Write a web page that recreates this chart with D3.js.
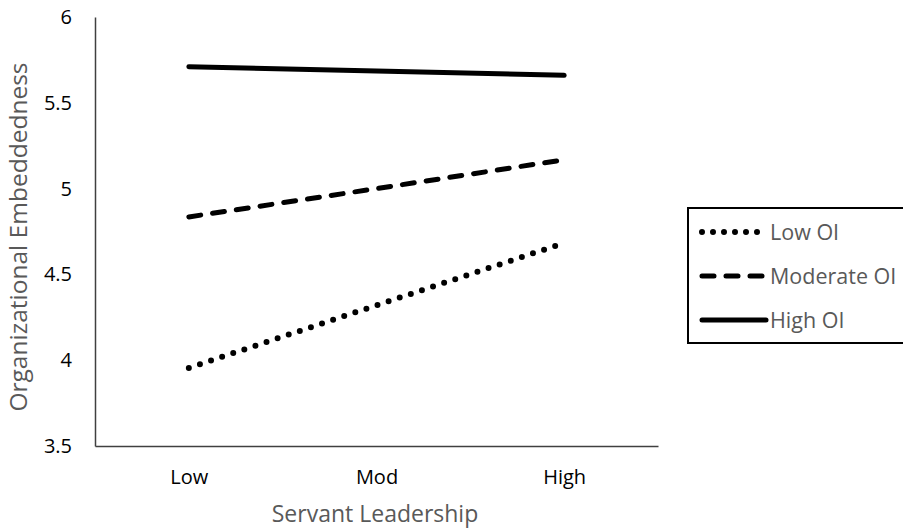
<!DOCTYPE html>
<html>
<head>
<meta charset="utf-8">
<script src="https://cdn.jsdelivr.net/npm/d3@7"></script>
<style>
  body { margin: 0; background: #fff; }
  svg { display: block; }
  svg text { font-family: "Open Sans", sans-serif; }
</style>
</head>
<body>
<svg id="chart" width="903" height="531"></svg>
<script>
// Daten
const categories = ["Low", "Mod", "High"];
const seriesNames = ["Low OI", "Moderate OI", "High OI"];
const lowOI = [3.955, 4.32, 4.683];
const moderateOI = [4.835, 5.0, 5.168];
const highOI = [5.71, 5.685, 5.66];
const yTicks = [3.5, 4, 4.5, 5, 5.5, 6];

const series = [
  { name: seriesNames[0], values: lowOI,      dash: "0 11.7", width: 6 },
  { name: seriesNames[1], values: moderateOI, dash: "12 12",  width: 5 },
  { name: seriesNames[2], values: highOI,     dash: null,     width: 5 }
];

const svg = d3.select("#chart");
const plot = { left: 95, right: 658, top: 17, bottom: 446 };

const x = d3.scalePoint()
  .domain(categories)
  .range([plot.left, plot.right])
  .padding(0.5);

const y = d3.scaleLinear()
  .domain([3.5, 6])
  .range([plot.bottom, plot.top]);

// Achsen
const xAxis = svg.append("g")
  .attr("transform", `translate(0,${plot.bottom})`)
  .call(d3.axisBottom(x).tickSize(0).tickPadding(24));
xAxis.attr("font-family", null).attr("font-size", null);
xAxis.select(".domain").attr("stroke", "#404040").attr("stroke-width", 1.5);
xAxis.selectAll("text")
  .attr("fill", "#000")
  .style("font-size", "20px");

const yAxis = svg.append("g")
  .attr("transform", `translate(${plot.left},0)`)
  .call(d3.axisLeft(y).tickValues(yTicks).tickSize(0).tickPadding(23).tickFormat(d3.format("")));
yAxis.attr("font-family", null).attr("font-size", null);
yAxis.select(".domain").attr("stroke", "#404040").attr("stroke-width", 1.5);
yAxis.selectAll("text")
  .attr("fill", "#000")
  .style("font-size", "20px");

// Achsentitel
svg.append("text")
  .attr("x", 375)
  .attr("y", 522)
  .attr("text-anchor", "middle")
  .attr("fill", "#595959")
  .style("font-size", "23px")
  .text("Servant Leadership");

svg.append("text")
  .attr("transform", "translate(27,237) rotate(-90)")
  .attr("text-anchor", "middle")
  .attr("fill", "#595959")
  .style("font-size", "24.5px")
  .text("Organizational Embeddedness");

// Linien
const line = d3.line()
  .x((d, i) => x(categories[i]))
  .y(d => y(d));

svg.selectAll(".series")
  .data(series)
  .join("path")
  .attr("class", "series")
  .attr("d", d => line(d.values))
  .attr("fill", "none")
  .attr("stroke", "#000")
  .attr("stroke-width", d => d.width)
  .attr("stroke-linecap", "round")
  .attr("stroke-dasharray", d => d.dash);

// Legende
const legend = svg.append("g");
legend.append("rect")
  .attr("x", 688).attr("y", 208)
  .attr("width", 240).attr("height", 135)
  .attr("fill", "#fff")
  .attr("stroke", "#000")
  .attr("stroke-width", 2);

const legendY = d3.scalePoint()
  .domain(seriesNames)
  .range([232, 320]);

const item = legend.selectAll(".item")
  .data(series)
  .join("g")
  .attr("class", "item")
  .attr("transform", d => `translate(0,${legendY(d.name)})`);

item.append("line")
  .attr("x1", 702).attr("x2", 766)
  .attr("stroke", "#000")
  .attr("stroke-width", d => d.width)
  .attr("stroke-linecap", "round")
  .attr("stroke-dasharray", d => d.dash === "0 11.7" ? "0 11" : d.dash);

item.append("text")
  .attr("x", 770)
  .attr("dy", "0.35em")
  .attr("fill", "#595959")
  .style("font-size", "21.5px")
  .text(d => d.name);
</script>
</body>
</html>
